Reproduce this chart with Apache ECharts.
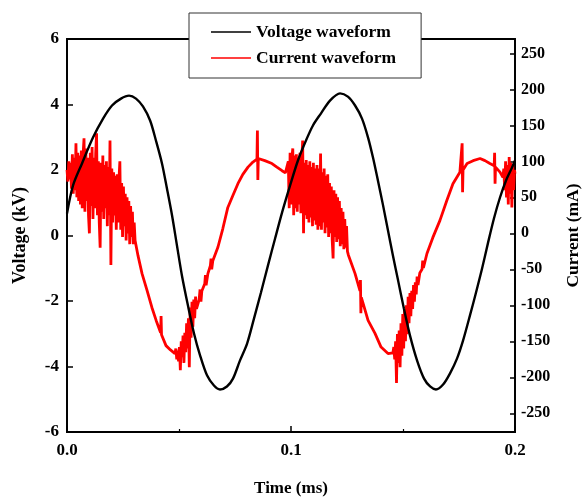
<!DOCTYPE html>
<html>
<head>
<meta charset="utf-8">
<script src="https://cdn.jsdelivr.net/npm/echarts@6/dist/echarts.min.js"></script>
<style>
html,body{margin:0;padding:0;background:#fff;}
#chart{width:584px;height:498px;}
</style>
</head>
<body>
<div id="chart"></div>
<script>
// ---- Data ----
var seriesNames = ['Voltage waveform', 'Current waveform'];
var xTickLabels = ['0.0', '0.1', '0.2'];
var rightTickValues = [-250, -200, -150, -100, -50, 0, 50, 100, 150, 200, 250];

// Voltage (kV) vs time (ms)
var voltageData = [
  [0, 0.67], [0.0027, 1.53], [0.0067, 2.20], [0.0116, 2.99], [0.0161, 3.57], [0.0201, 3.97],
  [0.0241, 4.18], [0.0277, 4.27], [0.0308, 4.18], [0.0339, 3.94], [0.0371, 3.51], [0.0397, 2.90],
  [0.0424, 2.20], [0.0446, 1.44], [0.0469, 0.61], [0.0491, -0.31], [0.0513, -1.22], [0.0540, -2.14],
  [0.0567, -2.99], [0.0594, -3.66], [0.0625, -4.27], [0.0656, -4.58], [0.0683, -4.70], [0.0714, -4.61],
  [0.0741, -4.37], [0.0772, -3.82], [0.0804, -3.30], [0.0835, -2.53], [0.0866, -1.74], [0.0897, -0.92],
  [0.0929, -0.09], [0.0960, 0.70], [0.0996, 1.53], [0.1031, 2.29], [0.1063, 2.84], [0.1098, 3.36],
  [0.1134, 3.73], [0.1174, 4.12], [0.1219, 4.34], [0.1254, 4.24], [0.1286, 3.97], [0.1317, 3.57],
  [0.1344, 2.99], [0.1366, 2.38], [0.1388, 1.68], [0.1411, 0.92], [0.1433, 0.15], [0.1455, -0.61],
  [0.1478, -1.37], [0.1504, -2.23], [0.1531, -3.05], [0.1563, -3.82], [0.1594, -4.37], [0.1621, -4.61],
  [0.1647, -4.70], [0.1679, -4.55], [0.1710, -4.21], [0.1741, -3.76], [0.1768, -3.21], [0.1799, -2.44],
  [0.1826, -1.74], [0.1853, -1.01], [0.1879, -0.24], [0.1906, 0.52], [0.1933, 1.16], [0.1960, 1.68],
  [0.1987, 2.08], [0.2, 2.29]
];

// Current (mA): first noisy burst
var currentNoise1 = [
  [0, 88], [0.0004, 72], [0.0008, 100], [0.0012, 75], [0.0016, 98], [0.002, 62], [0.0024, 110], [0.0028, 55],
  [0.0032, 105], [0.0036, 60], [0.004, 125], [0.0044, 50], [0.0048, 112], [0.0052, 45], [0.0056, 108], [0.006, 40],
  [0.0064, 115], [0.0068, 35], [0.0072, 110], [0.0076, 132], [0.008, 30], [0.0084, 118], [0.0088, 45], [0.0092, 105],
  [0.0096, 25], [0.01, 0], [0.0104, 112], [0.0108, 38], [0.0112, 120], [0.0116, 20], [0.012, 105], [0.0124, 35],
  [0.0128, 110], [0.0132, 139], [0.0136, 25], [0.014, 100], [0.0144, 15], [0.0148, -20], [0.0152, 98], [0.0156, 30],
  [0.016, 108], [0.0164, 20], [0.0168, 95], [0.0172, 35], [0.0176, 100], [0.018, 10], [0.0184, 92], [0.0188, 25],
  [0.0192, 129], [0.0196, -44], [0.02, 90], [0.0204, 15], [0.0208, 85], [0.0212, 25], [0.0216, 80], [0.022, 5],
  [0.0224, 82], [0.0228, 15], [0.0232, 75], [0.0236, 100], [0.024, 5], [0.0244, 70], [0.0248, -5], [0.0252, 65],
  [0.0256, 10], [0.026, 55], [0.0264, -10], [0.0268, 50], [0.0272, 0], [0.0276, 45], [0.028, -15], [0.0284, 38],
  [0.0288, -5], [0.0292, 30], [0.0296, -15], [0.03, 15], [0.0304, -10]
];
// descent, first trough and rise
var currentCycle1 = [
  [0.0317, -31], [0.0335, -56], [0.0357, -79], [0.0379, -103], [0.0398, -121], [0.0418, -138], [0.0420, -115],
  [0.0422, -141], [0.0442, -156], [0.0462, -162], [0.0482, -167],
  [0.0486, -160], [0.049, -175], [0.0494, -163], [0.0498, -178], [0.0502, -158], [0.0506, -190], [0.051, -150],
  [0.0514, -172], [0.0518, -142], [0.0522, -180], [0.0526, -138], [0.053, -165], [0.0534, -125], [0.0538, -160],
  [0.0542, -118], [0.0546, -186], [0.055, -103], [0.0554, -145], [0.0558, -95], [0.0562, -130], [0.0566, -92],
  [0.057, -118], [0.0574, -88], [0.0578, -105], [0.059, -92], [0.0594, -78], [0.0598, -95], [0.0602, -80],
  [0.0615, -70], [0.0618, -58], [0.0621, -72], [0.0629, -56], [0.064, -45], [0.0643, -35], [0.0646, -50],
  [0.0651, -38], [0.0674, -19], [0.0696, 7], [0.0718, 36], [0.0741, 53], [0.0763, 69], [0.0785, 82],
  [0.0808, 92], [0.083, 99], [0.0848, 103], [0.085, 143], [0.0852, 74], [0.0854, 104], [0.0883, 101],
  [0.0915, 97], [0.0937, 92], [0.096, 87], [0.0975, 84]
];
// second noisy burst
var currentNoise2 = [
  [0.0988, 100], [0.0992, 35], [0.0996, 112], [0.1, 40], [0.1004, 105], [0.1008, 118], [0.1012, 25], [0.1016, 108],
  [0.102, 35], [0.1024, 110], [0.1028, 30], [0.1032, 105], [0.1036, 40], [0.104, 112], [0.1044, 28], [0.1048, 100],
  [0.1052, 129], [0.1056, 0], [0.106, 98], [0.1064, 25], [0.1068, 102], [0.1072, 20], [0.1076, 95], [0.108, 15],
  [0.1084, 100], [0.1088, 22], [0.1092, 92], [0.1096, 10], [0.11, 98], [0.1104, 18], [0.1108, 90], [0.1112, 12],
  [0.1116, 95], [0.112, 5], [0.1124, 90], [0.1128, 10], [0.1132, 111], [0.1136, 5], [0.114, 85], [0.1144, 15],
  [0.1148, 90], [0.1152, 0], [0.1156, 80], [0.116, 8], [0.1164, 82], [0.1168, -5], [0.1172, 70], [0.1176, 0],
  [0.118, 65], [0.1184, -10], [0.1188, -35], [0.1192, 60], [0.1196, -5], [0.12, 55], [0.1204, -12], [0.1208, 50],
  [0.1212, -8], [0.1216, 45], [0.122, -18], [0.1224, 35], [0.1228, -15], [0.1232, 30], [0.1236, -22], [0.124, 20],
  [0.1244, -20], [0.1248, 10], [0.1252, -25]
];
// descent, second trough, rise and end
var currentCycle2 = [
  [0.1256, -30], [0.1286, -56], [0.1308, -80], [0.131, -65], [0.1312, -111], [0.1314, -89], [0.1344, -121],
  [0.1375, -139], [0.1402, -158], [0.1433, -167], [0.1455, -166],
  [0.1459, -158], [0.1463, -175], [0.1467, -150], [0.1471, -208], [0.1475, -140], [0.1479, -180], [0.1483, -135],
  [0.1487, -186], [0.1491, -125], [0.1495, -170], [0.1499, -112], [0.1503, -160], [0.1507, -105], [0.1511, -150],
  [0.1515, -100], [0.1519, -140], [0.1523, -88], [0.1527, -125], [0.1531, -83], [0.1535, -115], [0.1539, -80],
  [0.1543, -105], [0.1547, -72], [0.1551, -95], [0.1555, -68], [0.1559, -85], [0.1563, -60], [0.1567, -72],
  [0.1575, -55], [0.1585, -50], [0.1588, -38], [0.1591, -48], [0.1607, -28], [0.1633, -6], [0.1665, 18],
  [0.1696, 46], [0.1723, 69], [0.1754, 85], [0.1762, 86], [0.1764, 125], [0.1766, 57], [0.1768, 88],
  [0.1786, 97], [0.1813, 101], [0.1844, 104], [0.1866, 101], [0.1888, 97], [0.1907, 94], [0.1909, 112],
  [0.1911, 69], [0.1913, 92], [0.1933, 85], [0.1946, 78],
  [0.195, 90], [0.1954, 60], [0.1958, 100], [0.1962, 50], [0.1966, 95], [0.197, 40], [0.1974, 106], [0.1978, 55],
  [0.1982, 98], [0.1986, 36], [0.199, 95], [0.1994, 60], [0.1998, 88], [0.2, 83]
];

var currentData = currentNoise1.concat(currentCycle1, currentNoise2, currentCycle2);

// ---- Chart ----
var FONT = '"Liberation Serif", "Times New Roman", serif';
var chart = echarts.init(document.getElementById('chart'), null, {renderer: 'canvas'});
var axisLineStyle = {color: '#000', width: 1.8};
chart.setOption({
  animation: false,
  backgroundColor: '#fff',
  textStyle: {fontFamily: FONT, fontWeight: 'bold', color: '#000'},
  grid: {left: 67, right: 69, top: 39, bottom: 66, show: true, borderColor: '#000', borderWidth: 1.8,
         backgroundColor: 'transparent', containLabel: false, outerBoundsMode: 'none'},
  legend: {
    data: seriesNames,
    orient: 'vertical',
    left: 189, top: 13,
    padding: [10, 25, 11, 22],
    itemGap: 8,
    itemWidth: 40,
    itemHeight: 1.5,
    icon: 'rect',
    backgroundColor: '#fff',
    borderColor: '#333',
    borderWidth: 1,
    textStyle: {fontFamily: FONT, fontWeight: 'bold', fontSize: 17.5, color: '#000', lineHeight: 18},
    z: 10
  },
  xAxis: {
    type: 'value', min: 0, max: 0.2, interval: 0.1,
    name: 'Time (ms)', nameLocation: 'middle', nameGap: 48,
    nameTextStyle: {fontFamily: FONT, fontWeight: 'bold', fontSize: 17, color: '#000'},
    axisLine: {show: true, onZero: false, lineStyle: axisLineStyle},
    axisTick: {show: true, inside: true, length: 6, lineStyle: {color: '#000', width: 1.5}},
    minorTick: {show: true, splitNumber: 2, length: 3, lineStyle: {color: '#000', width: 1.2}},
    splitLine: {show: false},
    axisLabel: {
      fontFamily: FONT, fontWeight: 'bold', fontSize: 17, color: '#000', margin: 10,
      formatter: function (v) { var i = Math.round(v / 0.1); return xTickLabels[i] !== undefined ? xTickLabels[i] : v.toFixed(1); }
    }
  },
  yAxis: [
    {
      type: 'value', min: -6, max: 6, interval: 2, position: 'left',
      name: 'Voltage (kV)', nameLocation: 'middle', nameGap: 38, nameRotate: 90,
      nameTextStyle: {fontFamily: FONT, fontWeight: 'bold', fontSize: 18, color: '#000'},
      axisLine: {show: true, onZero: false, lineStyle: axisLineStyle},
      axisTick: {show: true, inside: true, length: 6, lineStyle: {color: '#000', width: 1.5}},
      splitLine: {show: false},
      axisLabel: {fontFamily: FONT, fontWeight: 'bold', fontSize: 17, color: '#000', margin: 8}
    },
    {
      type: 'value', min: -276, max: 270, position: 'right',
      name: 'Current (mA)', nameLocation: 'middle', nameGap: 49, nameRotate: 90,
      nameTextStyle: {fontFamily: FONT, fontWeight: 'bold', fontSize: 17.5, color: '#000'},
      axisLine: {show: true, onZero: false, lineStyle: axisLineStyle},
      axisTick: {show: true, inside: true, length: 5, lineStyle: {color: '#000', width: 1.5}, customValues: rightTickValues},
      splitLine: {show: false},
      axisLabel: {fontFamily: FONT, fontWeight: 'bold', fontSize: 16, color: '#000', margin: 6, customValues: rightTickValues}
    }
  ],
  series: [
    {
      name: seriesNames[1], type: 'line', yAxisIndex: 1, data: currentData,
      showSymbol: false, symbol: 'none', smooth: false,
      lineStyle: {color: '#ff0000', width: 2.8}, itemStyle: {color: '#ff0000'}, z: 2
    },
    {
      name: seriesNames[0], type: 'line', yAxisIndex: 0, data: voltageData,
      showSymbol: false, symbol: 'none', smooth: 0.3,
      lineStyle: {color: '#000', width: 2.4}, itemStyle: {color: '#000'}, z: 3
    }
  ]
});
</script>
</body>
</html>
